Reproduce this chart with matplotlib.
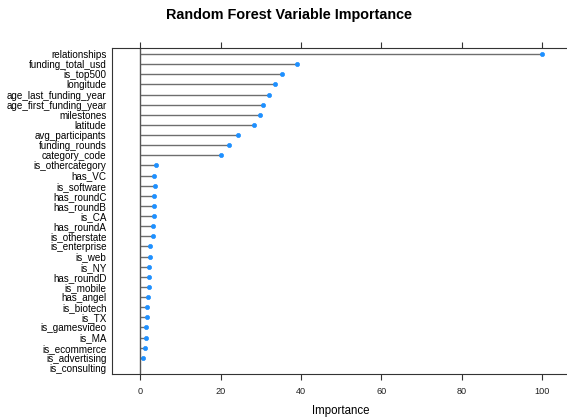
import matplotlib
matplotlib.use("Agg")
import matplotlib.pyplot as plt

plt.rcParams['font.family'] = ['Liberation Sans', 'DejaVu Sans']

variables = ["relationships", "funding_total_usd", "is_top500", "longitude",
             "age_last_funding_year", "age_first_funding_year", "milestones",
             "latitude", "avg_participants", "funding_rounds", "category_code",
             "is_othercategory", "has_VC", "is_software", "has_roundC",
             "has_roundB", "is_CA", "has_roundA", "is_otherstate",
             "is_enterprise", "is_web", "is_NY", "has_roundD", "is_mobile",
             "has_angel", "is_biotech", "is_TX", "is_gamesvideo", "is_MA",
             "is_ecommerce", "is_advertising", "is_consulting"]
importance = [100.0, 39.0, 35.2, 33.6, 32.1, 30.6, 29.7, 28.2, 24.3, 22.0, 20.1,
              3.8, 3.5, 3.6, 3.3, 3.3, 3.3, 3.2, 3.2, 2.5, 2.5, 2.25, 2.25, 2.2,
              1.8, 1.7, 1.7, 1.4, 1.4, 1.1, 0.7, 0.0]
xticks = [0, 20, 40, 60, 80, 100]

fig = plt.figure(figsize=(5.67, 4.18), dpi=100)
ax = fig.add_axes([112.2 / 567, 1 - 374 / 418, (570 - 112.2) / 567, (374 - 48) / 418])

n = len(variables)
ypos = list(range(n, 0, -1))
ax.hlines(ypos, 0, importance, color='#6e6e6e', lw=1.0)
px = [v for v in importance if v > 0]
py = [y for v, y in zip(importance, ypos) if v > 0]
ax.plot(px, py, 'o', color='#1E90FF', ms=3.0, mec='#1E90FF', mew=0.5)
ax.axvline(0, color='#555555', lw=1.0)

ax.set_xlim(-7, 107)
ax.set_ylim(0.4, n + 0.6)
ax.set_yticks(ypos)
ax.set_yticklabels(variables, fontsize=7.1)
ax.set_xticks(xticks)
ax.set_xticklabels([str(t) for t in xticks], fontsize=6.6)
ax.tick_params(axis='y', length=0, pad=4)
ax.tick_params(axis='x', top=True, bottom=True, direction='out', length=4.5,
               width=0.8, color='#333333', pad=5, labelcolor='#222222')
for s in ax.spines.values():
    s.set_color('#333333')
    s.set_linewidth(0.8)
ax.set_xlabel("Importance", fontsize=8.3, labelpad=6)
fig.text(289 / 567, 1 - 15.5 / 418, "Random Forest Variable Importance",
         fontsize=10.4, fontweight='bold', ha='center', va='center')

fig.savefig("out.png", dpi=100)
